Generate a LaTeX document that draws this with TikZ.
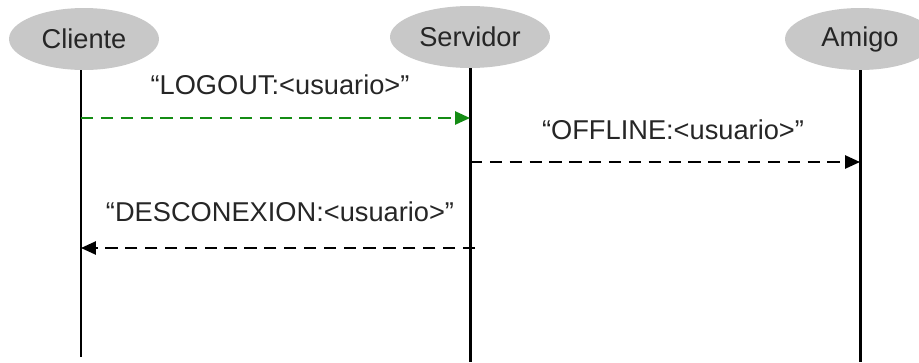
\documentclass[tikz,border=0pt]{standalone}
\usepackage{fontspec}
\setmainfont{Liberation Sans}
\usetikzlibrary{shapes.geometric,arrows.meta}

\definecolor{actorgray}{RGB}{200,200,200}
\definecolor{logoutgreen}{RGB}{20,140,20}

\begin{document}
\begin{tikzpicture}[x=0.02cm,y=-0.02cm,
    actor/.style={ellipse,fill=actorgray,minimum width=3cm,minimum height=1.24cm,
        text=black!85,font=\fontsize{15.5}{18}\selectfont},
    lifeline/.style={line width=1.7pt},
    msg/.style={line width=1.1pt,dash pattern=on 7pt off 4.3pt,
        -{Triangle[length=8.5pt,width=7.5pt]}},
    msglabel/.style={text=black!85,font=\fontsize{15.5}{18}\selectfont}]
    \useasboundingbox (0,0) rectangle (919,362);

    % actors
    \node[actor] (cliente) at (84,39) {Cliente};
    \node[actor] (servidor) at (470,37) {Servidor};
    \node[actor] (amigo) at (860,39) {Amigo};

    % lifelines
    \coordinate (cend) at (81,357);
    \coordinate (send) at (470,362);
    \coordinate (aend) at (860,362);
    \draw[lifeline] (cliente.south -| cend) -- (cend);
    \draw[lifeline] (servidor.south -| send) -- (send);
    \draw[lifeline] (amigo.south -| aend) -- (aend);

    % message ends
    \coordinate (c1) at (81,118);
    \coordinate (s1) at (470,118);
    \coordinate (s2) at (470,162);
    \coordinate (a2) at (860,162);
    \coordinate (s3) at (475,248);
    \coordinate (c3) at (81,248);

    \draw[msg,logoutgreen] (c1) -- (s1);
    \draw[msg] (s2) -- (a2);
    \draw[msg] (s3) -- (c3);

    \node[msglabel] (logout) at (280,85) {“LOGOUT:<usuario>”};
    \node[msglabel] (offline) at (673,130) {“OFFLINE:<usuario>”};
    \node[msglabel] (descon) at (280,212) {“DESCONEXION:<usuario>”};

\end{tikzpicture}
\end{document}
